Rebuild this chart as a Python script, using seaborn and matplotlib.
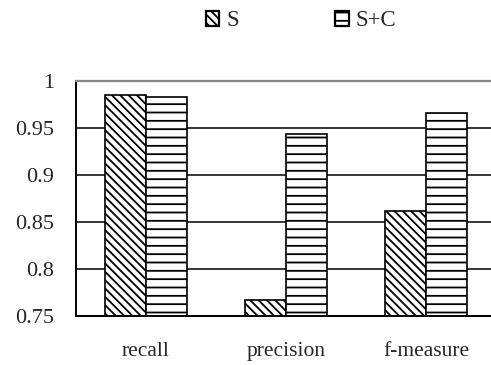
import matplotlib
matplotlib.use("Agg")
import matplotlib.pyplot as plt
import seaborn as sns
import pandas as pd
from matplotlib.patches import Patch

categories = ["recall", "precision", "f-measure"]
series_names = ["S", "S+C"]
s_values = [0.985, 0.767, 0.862]
sc_values = [0.983, 0.944, 0.966]
y_ticks = [0.75, 0.8, 0.85, 0.9, 0.95, 1.0]
y_tick_labels = ["0.75", "0.8", "0.85", "0.9", "0.95", "1"]

df = pd.DataFrame({
    "category": categories * 2,
    "series": [series_names[0]] * 3 + [series_names[1]] * 3,
    "value": s_values + sc_values,
})

sns.set_style("white")
plt.rcParams["font.family"] = ["Liberation Serif", "DejaVu Serif"]
plt.rcParams["hatch.linewidth"] = 1.3

fig = plt.figure(figsize=(4.91, 3.65), dpi=100)
ax = fig.add_axes([76 / 491, 1 - 316 / 365, 420 / 491, 235 / 365])

sns.barplot(data=df, x="category", y="value", hue="series", order=categories,
            hue_order=series_names, width=0.585, ax=ax, legend=False,
            palette=["white", "white"], saturation=1)

hatches = ["\\\\\\\\", "--"]
for cont, h in zip(ax.containers, hatches):
    for bar in cont:
        bar.set_facecolor("white")
        bar.set_edgecolor("black")
        bar.set_linewidth(1.2)
        bar.set_hatch(h)

ax.set_ylim(0.75, 1.0)
ax.set_xlim(-0.5, 2.5)
ax.set_yticks(y_ticks)
ax.set_yticklabels(y_tick_labels)
ax.yaxis.grid(True, color="black", linewidth=1.1)
ax.set_axisbelow(True)
ax.set_xlabel("")
ax.set_ylabel("")

ax.set_xticks([0, 1, 2])
ax.set_xticklabels(categories)
ax.tick_params(axis="x", length=0, pad=19, labelsize=15.5)
ax.tick_params(axis="y", length=0, pad=16, labelsize=16)
ax.set_xticks([0.5, 1.5], minor=True)
ax.tick_params(axis="x", which="minor", direction="in", length=4, width=1.2, color="black")

for side in ["left", "bottom"]:
    ax.spines[side].set_visible(True)
    ax.spines[side].set_color("black")
    ax.spines[side].set_linewidth(1.4)
ax.spines["top"].set_visible(True)
ax.spines["top"].set_color("#888888")
ax.spines["top"].set_linewidth(1.6)
ax.spines["right"].set_visible(False)

handles = [Patch(facecolor="white", edgecolor="black", hatch=h, linewidth=1.6)
           for h in ["\\\\\\\\", "--"]]
fig.legend(handles, series_names, loc="center", bbox_to_anchor=(301 / 491, 1 - 21 / 365),
           ncol=2, frameon=False, fontsize=16.5, handlelength=0.6, handleheight=0.6,
           handletextpad=0.3, columnspacing=4.2)

fig.savefig("out.png", dpi=100)
